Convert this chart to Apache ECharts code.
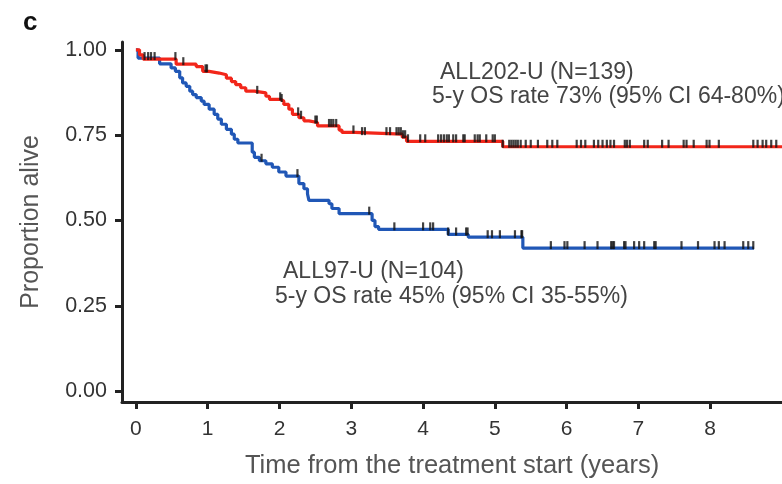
<!DOCTYPE html>
<html>
<head>
<meta charset="utf-8">
<script src="https://cdn.jsdelivr.net/npm/echarts@6/dist/echarts.min.js"></script>
<style>
  html, body { margin: 0; padding: 0; background: #fff; }
  #chart { width: 782px; height: 484px; }
</style>
</head>
<body>
<div id="chart"></div>
<script>
// Kaplan-Meier overall survival, two treatment protocols
const xTicks = [0, 1, 2, 3, 4, 5, 6, 7, 8];
const yTicks = [0, 0.25, 0.5, 0.75, 1.0];

// ALL202-U: step times (years) and survival after each step
const redTimes = [0, 0.05, 0.1, 0.56, 0.84, 0.93, 1.02, 1.16, 1.26, 1.33, 1.39, 1.46, 1.53, 1.65, 1.81, 1.86, 2.02, 2.06, 2.13, 2.18, 2.27, 2.34, 2.41, 2.53, 2.83, 2.87, 3.05, 3.71, 3.77, 5.11, 9.0];
const redSurv  = [1.0, 0.985, 0.973, 0.958, 0.951, 0.937, 0.932, 0.927, 0.917, 0.907, 0.898, 0.889, 0.879, 0.874, 0.864, 0.855, 0.85, 0.84, 0.826, 0.811, 0.801, 0.792, 0.787, 0.777, 0.765, 0.758, 0.753, 0.744, 0.732, 0.716, 0.716];
const redCensored = [0.12, 0.17, 0.21, 0.26, 0.55, 0.66, 0.97, 0.99, 1.69, 2.01, 2.03, 2.26, 2.3, 2.5, 2.52, 2.69, 2.72, 2.75, 2.79, 3.03, 3.15, 3.19, 3.49, 3.54, 3.63, 3.66, 3.69, 3.72, 3.75, 3.79, 3.96, 4.03, 4.21, 4.25, 4.29, 4.33, 4.36, 4.42, 4.46, 4.56, 4.58, 4.72, 4.76, 4.79, 4.88, 4.97, 5.0, 5.11, 5.2, 5.23, 5.26, 5.29, 5.32, 5.36, 5.43, 5.5, 5.6, 5.73, 5.8, 5.87, 6.14, 6.2, 6.26, 6.38, 6.44, 6.5, 6.56, 6.61, 6.66, 6.81, 6.84, 6.88, 7.08, 7.13, 7.33, 7.42, 7.63, 7.67, 7.77, 7.95, 7.99, 8.12, 8.6, 8.66, 8.73, 8.78, 8.85, 8.92];

// ALL97-U
const blueTimes = [0, 0.03, 0.33, 0.49, 0.55, 0.61, 0.65, 0.70, 0.75, 0.79, 0.84, 0.91, 0.95, 1.02, 1.09, 1.14, 1.19, 1.26, 1.33, 1.37, 1.42, 1.62, 1.65, 1.72, 1.81, 1.9, 1.99, 2.09, 2.27, 2.34, 2.39, 2.41, 2.69, 2.73, 2.83, 3.29, 3.33, 3.38, 4.35, 4.63, 5.39, 8.61];
const blueSurv  = [1.0, 0.976, 0.959, 0.947, 0.937, 0.918, 0.903, 0.893, 0.879, 0.869, 0.86, 0.85, 0.84, 0.826, 0.811, 0.797, 0.782, 0.767, 0.753, 0.738, 0.727, 0.70, 0.685, 0.675, 0.666, 0.656, 0.642, 0.63, 0.608, 0.593, 0.578, 0.559, 0.549, 0.535, 0.52, 0.50, 0.482, 0.474, 0.459, 0.451, 0.419, 0.419];
const blueCensored = [1.75, 2.25, 3.25, 3.6, 4.0, 4.1, 4.14, 4.35, 4.46, 4.6, 4.62, 4.9, 4.96, 5.07, 5.28, 5.37, 5.38, 5.78, 5.97, 6.01, 6.25, 6.43, 6.62, 6.64, 6.66, 6.8, 6.82, 6.94, 7.01, 7.08, 7.22, 7.24, 7.6, 7.83, 8.06, 8.12, 8.2, 8.46, 8.53, 8.6];

const FONT = '"Liberation Sans", Arial, Helvetica, sans-serif';

function pairs(ts, ss) { return ts.map((t, i) => [t, ss[i]]); }
// survival value of a step curve at time t
function survAt(ts, ss, t) {
  let v = ss[0];
  for (let i = 0; i < ts.length; i++) { if (ts[i] <= t) v = ss[i]; }
  return v;
}
function censorPoints(cens, ts, ss) { return cens.map(t => [t, survAt(ts, ss, t)]); }

const chart = echarts.init(document.getElementById('chart'), null, { renderer: 'canvas' });

const censorStyle = {
  type: 'scatter',
  symbol: 'rect',
  symbolSize: [2.2, 8],
  symbolOffset: [0, -3],
  itemStyle: { color: '#111' },
  silent: true,
  z: 5
};

chart.setOption({
  animation: false,
  backgroundColor: '#fff',
  grid: { left: 122, top: 42, width: 664, height: 363, containLabel: false },
  xAxis: {
    type: 'value',
    min: -0.194,
    max: 9,
    name: 'Time from the treatment start (years)',
    nameLocation: 'middle',
    nameGap: 51,
    nameTextStyle: { fontFamily: FONT, fontSize: 25.5, color: '#555' },
    axisLine: { show: true, onZero: false, lineStyle: { color: '#222', width: 3 } },
    axisTick: { show: true, customValues: xTicks, length: 7, lineStyle: { color: '#222', width: 3 } },
    axisLabel: { customValues: xTicks, margin: 17, fontFamily: FONT, fontSize: 21, color: '#333' },
    splitLine: { show: false }
  },
  yAxis: {
    type: 'value',
    min: -0.032,
    max: 1.023,
    name: 'Proportion alive',
    nameLocation: 'middle',
    nameGap: 78,
    nameTextStyle: { fontFamily: FONT, fontSize: 25, color: '#555' },
    axisLine: { show: true, onZero: false, lineStyle: { color: '#222', width: 3 } },
    axisTick: { show: true, customValues: yTicks, length: 7, lineStyle: { color: '#222', width: 3 } },
    axisLabel: {
      customValues: yTicks, margin: 15, fontFamily: FONT, fontSize: 21.5, color: '#333',
      formatter: v => v.toFixed(2)
    },
    splitLine: { show: false }
  },
  series: [
    {
      name: 'ALL97-U', type: 'line', step: 'end', showSymbol: false,
      data: pairs(blueTimes, blueSurv),
      lineStyle: { color: '#2057b6', width: 3.2 }, z: 2
    },
    {
      name: 'ALL202-U', type: 'line', step: 'end', showSymbol: false,
      data: pairs(redTimes, redSurv),
      lineStyle: { color: '#f2261a', width: 3.2 }, z: 3
    },
    Object.assign({ name: 'ALL97-U censored', data: censorPoints(blueCensored, blueTimes, blueSurv) }, censorStyle),
    Object.assign({ name: 'ALL202-U censored', data: censorPoints(redCensored, redTimes, redSurv) }, censorStyle)
  ],
  graphic: [
    { type: 'text', left: 23, top: 10, style: { text: 'c', font: 'bold 26px ' + FONT, fill: '#111' } },
    { type: 'text', left: 440, top: 61, style: { text: 'ALL202-U (N=139)', font: '23px ' + FONT, fill: '#444' } },
    { type: 'text', left: 432, top: 85, style: { text: '5-y OS rate 73% (95% CI 64-80%)', font: '23px ' + FONT, fill: '#444' } },
    { type: 'text', left: 283, top: 260, style: { text: 'ALL97-U (N=104)', font: '23px ' + FONT, fill: '#444' } },
    { type: 'text', left: 275, top: 285, style: { text: '5-y OS rate 45% (95% CI 35-55%)', font: '23px ' + FONT, fill: '#444' } }
  ]
});
</script>
</body>
</html>
